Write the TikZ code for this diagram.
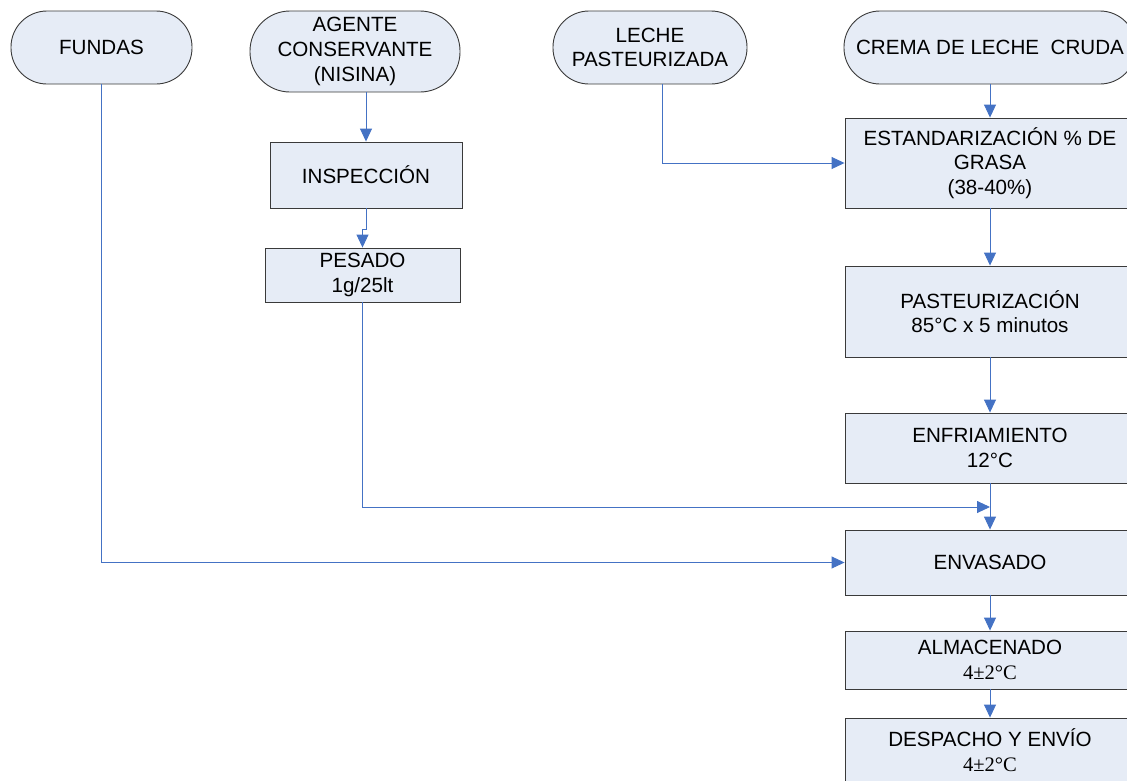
\documentclass[tikz,border=0pt]{standalone}
\usepackage{fontspec}
\setmainfont{Liberation Sans}
\newfontfamily\timesfont{Liberation Serif}
\usetikzlibrary{arrows.meta}
\definecolor{boxfill}{HTML}{E6ECF6}
\definecolor{flowblue}{HTML}{4472C4}
\definecolor{boxline}{HTML}{3A3A3A}
\begin{document}
\begin{tikzpicture}[x=1pt,y=-1pt,
  every node/.style={font=\fontsize{20.6}{24.6}\selectfont, align=center, inner sep=0pt},
  terminal/.style={draw=boxline, fill=boxfill, line width=0.9pt, rounded corners=36pt},
  process/.style={draw=boxline, fill=boxfill, line width=0.9pt},
  flow/.style={draw=flowblue, line width=0.9pt, -{Triangle[width=12pt,length=13pt]}}]
\useasboundingbox (0,0) rectangle (1127,780);
\clip (0,0) rectangle (1127,780);

% start terminals
\node[terminal, minimum width=181pt, minimum height=73pt] (fundas) at (101.5,47.5) {FUNDAS};
\node[terminal, rounded corners=40pt, minimum width=210pt, minimum height=81pt] (agente) at (355,51.5) {AGENTE\\CONSERVANTE\\(NISINA)};
\node[terminal, minimum width=194pt, minimum height=73pt] (leche) at (650,47.5) {LECHE\\PASTEURIZADA};
\node[terminal, minimum width=292pt, minimum height=73pt] (crema) at (990,47.5) {CREMA DE LECHE\ \ CRUDA};

% preservative branch
\node[process, minimum width=192pt, minimum height=66pt] (inspec) at (366,175) {INSPECCIÓN};
\node[process, minimum width=195pt, minimum height=54pt] (pesado) at (362.5,275) {PESADO\\1g/25lt};

% main line
\node[process, minimum width=290pt, minimum height=90pt] (estand) at (990,163) {ESTANDARIZACIÓN \% DE\\GRASA\\(38-40\%)};
\node[process, minimum width=290pt, minimum height=91pt] (pasteur) at (990,311.5) {PASTEURIZACIÓN\\85°C x 5 minutos};
\node[process, minimum width=290pt, minimum height=70pt] (enfria) at (990,448) {ENFRIAMIENTO\\12°C};
\node[process, minimum width=290pt, minimum height=65pt] (envas) at (990,562.5) {ENVASADO};
\node[process, minimum width=290pt, minimum height=58pt] (almac) at (990,660) {ALMACENADO\\{\timesfont 4±2°C}};
\node[process, minimum width=290pt, minimum height=64pt] (despacho) at (990,750) {DESPACHO Y ENVÍO\\{\timesfont 4±2°C}};

\coordinate (merge) at (990,507);

% connectors
\draw[flow] (crema) -- (estand);
\draw[flow] ([xshift=12pt]leche.south) |- (estand.west);
\draw[flow] (estand) -- (pasteur);
\draw[flow] (pasteur) -- (enfria);
\draw[flow] (enfria) -- (envas);
\draw[flow] (envas) -- (almac);
\draw[flow] (almac) -- (despacho);
\draw[flow] (inspec.north |- agente.south) -- (inspec.north);
\draw[flow] (inspec.south) -- ++(0,21) -| (pesado.north);
\draw[flow] (pesado.south) |- (merge);
\draw[flow] (fundas.south) |- (envas.west);
\end{tikzpicture}
\end{document}
